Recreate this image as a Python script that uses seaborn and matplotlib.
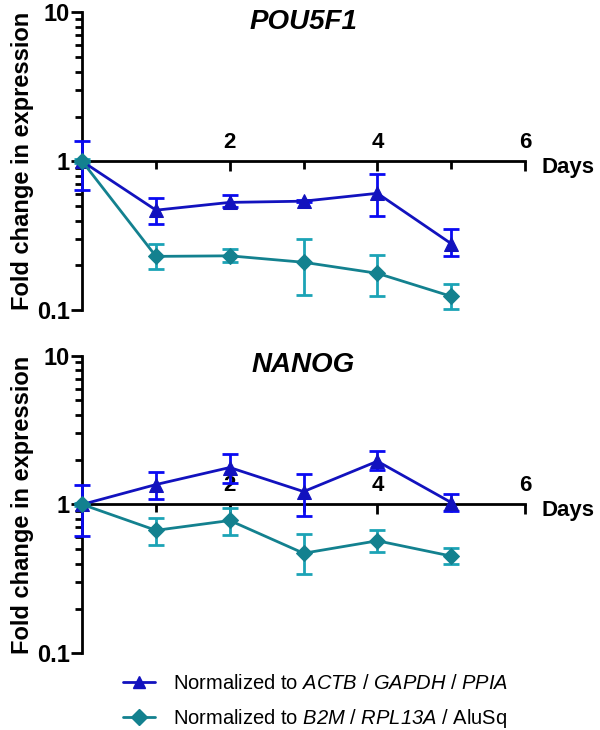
import matplotlib
matplotlib.use("Agg")

import matplotlib.pyplot as plt
import matplotlib.ticker as mticker
import pandas as pd
import seaborn as sns

days = [0, 1, 2, 3, 4, 5]

# POU5F1
pou_ref1 = [1.0, 0.47, 0.53, 0.54, 0.61, 0.28]
pou_ref1_lo = [0.64, 0.38, 0.49, 0.53, 0.43, 0.23]
pou_ref1_hi = [1.36, 0.565, 0.59, 0.55, 0.82, 0.35]
pou_ref2 = [1.0, 0.23, 0.232, 0.21, 0.177, 0.124]
pou_ref2_lo = [0.97, 0.19, 0.21, 0.126, 0.124, 0.102]
pou_ref2_hi = [1.03, 0.277, 0.256, 0.30, 0.234, 0.15]

# NANOG
nan_ref1 = [1.0, 1.36, 1.77, 1.22, 1.95, 1.03]
nan_ref1_lo = [0.61, 1.08, 1.40, 0.84, 1.69, 0.90]
nan_ref1_hi = [1.36, 1.64, 2.17, 1.59, 2.27, 1.18]
nan_ref2 = [1.0, 0.67, 0.78, 0.47, 0.57, 0.45]
nan_ref2_lo = [0.97, 0.53, 0.62, 0.34, 0.48, 0.40]
nan_ref2_hi = [1.03, 0.81, 0.95, 0.63, 0.67, 0.51]

# gene names go through mathtext \mathrm, which is mapped to the italic face
labels = [
    r"Normalized to $\mathrm{ACTB}$ / $\mathrm{GAPDH}$ / $\mathrm{PPIA}$",
    r"Normalized to $\mathrm{B2M}$ / $\mathrm{RPL13A}$ / AluSq",
]
line_colors = ["#1212BE", "#13818F"]
err_colors = ["#0A0AF2", "#1CA3B6"]
markers = ["^", "D"]

sns.set_style("white")
plt.rcParams["font.family"] = ["Liberation Sans", "DejaVu Sans"]
plt.rcParams["mathtext.fontset"] = "custom"
plt.rcParams["mathtext.rm"] = "Liberation Sans:italic"
plt.rcParams["mathtext.it"] = "Liberation Sans:italic"
plt.rcParams["mathtext.bf"] = "Liberation Sans:bold"
for key in ["text.color", "axes.labelcolor", "xtick.color", "ytick.color"]:
    plt.rcParams[key] = "black"


def draw_panel(ax, title, series):
    for i, (vals, lo, hi) in enumerate(series):
        df = pd.DataFrame({"day": days, "fold": vals})
        yerr = [[v - l for v, l in zip(vals, lo)], [h - v for v, h in zip(vals, hi)]]
        ax.errorbar(days, vals, yerr=yerr, fmt="none", ecolor=err_colors[i],
                    elinewidth=2, capsize=6, capthick=2, clip_on=False, zorder=3)
        sns.lineplot(data=df, x="day", y="fold", ax=ax, color=line_colors[i],
                     marker=markers[i], markersize=10 if i == 0 else 8,
                     markeredgecolor=line_colors[i], linewidth=2,
                     clip_on=False, zorder=4, legend=False)
    ax.set_yscale("log")
    ax.set_ylim(0.1, 10)
    ax.set_xlim(0, 6)
    ax.set_title(title, fontsize=20, fontweight="bold", fontstyle="italic",
                 pad=-12, color="black")

    for s in ["right", "bottom"]:
        ax.spines[s].set_visible(False)
    ax.spines["left"].set_linewidth(2)
    ax.spines["left"].set_color("black")
    ax.spines["top"].set_position(("data", 1))
    ax.spines["top"].set_linewidth(2)
    ax.spines["top"].set_color("black")

    ax.xaxis.set_major_locator(mticker.FixedLocator([2, 4, 6]))
    ax.xaxis.set_minor_locator(mticker.FixedLocator([1, 3, 5]))
    ax.xaxis.set_major_formatter(mticker.FormatStrFormatter("%d"))
    ax.tick_params(axis="x", which="both", bottom=False, labelbottom=False,
                   top=True, labeltop=True, direction="in", width=2, color="black")
    ax.tick_params(axis="x", which="major", length=7, pad=6, labelsize=16)
    ax.tick_params(axis="x", which="minor", length=6)
    for t in ax.get_xticklabels():
        t.set_fontweight("bold")

    ax.yaxis.set_major_locator(mticker.FixedLocator([0.1, 1, 10]))
    ax.yaxis.set_major_formatter(mticker.FixedFormatter(["0.1", "1", "10"]))
    ax.yaxis.set_minor_locator(mticker.LogLocator(base=10, subs=range(2, 10)))
    ax.yaxis.set_minor_formatter(mticker.NullFormatter())
    ax.tick_params(axis="y", which="both", left=True, direction="out",
                   width=2, color="black")
    ax.tick_params(axis="y", which="major", length=8, pad=1, labelsize=17)
    ax.tick_params(axis="y", which="minor", length=5)
    for t in ax.get_yticklabels():
        t.set_fontweight("bold")

    ax.set_ylabel("Fold change in expression", fontsize=17, fontweight="bold",
                  labelpad=2)
    ax.set_xlabel("")
    ax.text(1.097, 0.48, "Days", transform=ax.transAxes, fontsize=16,
            fontweight="bold", ha="center", va="center")


fig = plt.figure(figsize=(6, 7.3), dpi=100)
ax1 = fig.add_axes([0.137, 0.575, 0.738, 0.408])
ax2 = fig.add_axes([0.137, 0.105, 0.738, 0.408])

draw_panel(ax1, "POU5F1", [(pou_ref1, pou_ref1_lo, pou_ref1_hi),
                           (pou_ref2, pou_ref2_lo, pou_ref2_hi)])
draw_panel(ax2, "NANOG", [(nan_ref1, nan_ref1_lo, nan_ref1_hi),
                          (nan_ref2, nan_ref2_lo, nan_ref2_hi)])

handles = [
    plt.Line2D([], [], color=line_colors[0], marker="^", markersize=9, linewidth=2),
    plt.Line2D([], [], color=line_colors[1], marker="D", markersize=8, linewidth=2),
]
fig.legend(handles, labels, loc="upper left", bbox_to_anchor=(0.205, 0.077),
           frameon=False, fontsize=14.5, handlelength=1.6, handletextpad=0.9,
           labelspacing=0.7, borderpad=0, borderaxespad=0)

fig.savefig("out.png", dpi=100)
